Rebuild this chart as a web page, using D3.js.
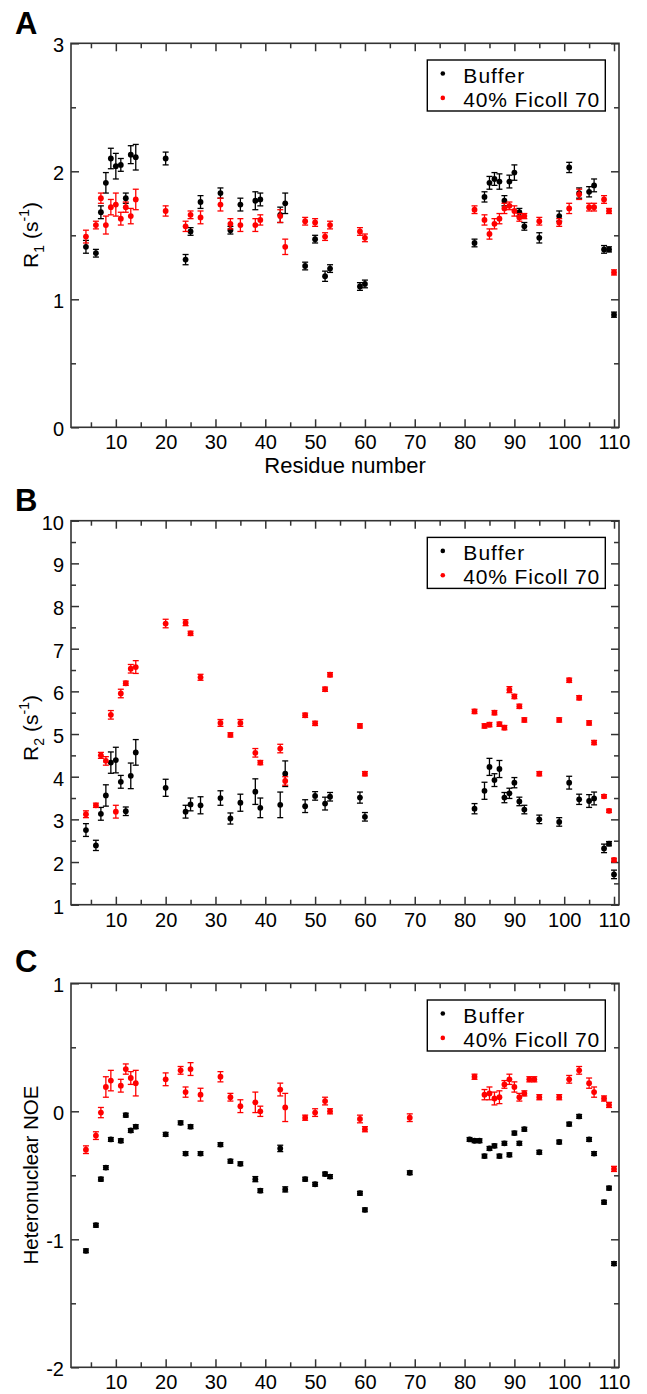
<!DOCTYPE html>
<html>
<head>
<meta charset="utf-8">
<script src="https://cdn.jsdelivr.net/npm/d3@7"></script>
<style>
  body { margin: 0; background: #fff; }
  text { font-family: "Liberation Sans", Arial, Helvetica, sans-serif; }
</style>
</head>
<body>
<div id="wrapper"></div>
<script>
// residues shared by panels A and B
const residues = [4,6,7,8,9,10,11,12,13,14,20,24,25,27,31,33,35,38,39,43,44,48,50,52,53,59,60,
    82,84,85,86,87,88,89,90,91,92,95,99,101,103,105,106,108,109,110]

// panel A: R1
const r1Buffer = [1.41,1.36,1.68,1.91,2.10,2.04,2.05,1.79,2.13,2.11,2.10,1.31,1.53,1.76,1.83,1.54,1.74,1.77,1.78,1.66,1.75,1.26,1.47,1.18,1.24,1.10,1.12,
    1.44,1.80,1.91,1.94,1.92,1.77,1.92,1.99,1.68,1.57,1.48,1.65,2.03,1.83,1.84,1.89,1.39,1.39,0.88]
const r1BufferErr = [.05,.03,.05,.08,.08,.1,.05,.04,.07,.1,.05,.04,.03,.05,.04,.03,.05,.07,.05,.06,.08,.03,.03,.04,.03,.03,.03,
    .03,.04,.05,.05,.06,.04,.05,.06,.03,.03,.04,.04,.04,.04,.04,.05,.03,.02,.02]
const r1Ficoll = [1.49,1.58,1.79,1.58,1.72,1.74,1.63,1.72,1.65,1.78,1.69,1.57,1.66,1.64,1.74,1.59,1.58,1.58,1.62,1.65,1.41,1.61,1.60,1.49,1.58,1.53,1.48,
    1.70,1.62,1.51,1.59,1.63,1.71,1.73,1.69,1.64,1.65,1.61,1.60,1.71,1.82,1.72,1.72,1.78,1.69,1.21]
const r1FicollErr = [.05,.03,.04,.07,.06,.09,.05,.04,.06,.08,.04,.04,.03,.05,.05,.04,.05,.05,.04,.05,.06,.03,.03,.03,.03,.03,.03,
    .03,.04,.04,.04,.04,.04,.03,.04,.03,.02,.03,.03,.04,.04,.03,.03,.03,.02,.02]

// panel B: R2
const r2Buffer = [2.75,2.39,3.13,3.56,4.33,4.39,3.88,3.19,4.02,4.57,3.74,3.18,3.35,3.33,3.50,3.02,3.39,3.65,3.27,3.34,4.07,3.31,3.55,3.37,3.53,3.51,3.06,
    3.25,3.67,4.23,3.92,4.18,3.51,3.61,3.86,3.42,3.23,3.00,2.94,3.86,3.47,3.43,3.49,2.32,2.43,1.71]
const r2BufferErr = [.15,.12,.15,.25,.25,.3,.15,.1,.3,.3,.2,.15,.15,.2,.17,.13,.2,.3,.23,.3,.3,.15,.1,.15,.1,.13,.1,
    .12,.2,.2,.15,.2,.12,.12,.12,.1,.1,.1,.1,.15,.12,.15,.15,.1,.05,.1]
const r2Ficoll = [3.12,3.33,4.50,4.37,5.45,3.18,5.95,6.19,6.53,6.57,7.59,7.61,7.36,6.33,5.26,4.98,5.26,4.56,4.33,4.66,3.90,5.44,5.25,6.05,6.39,5.19,4.07,
    5.53,5.19,5.22,5.50,5.23,5.15,6.04,5.88,5.65,5.33,4.07,5.33,6.26,5.85,5.26,4.80,3.54,3.20,2.05]
const r2FicollErr = [.08,.05,.07,.1,.1,.15,.1,.05,.1,.15,.1,.07,.05,.07,.08,.05,.08,.1,.05,.1,.1,.05,.05,.05,.05,.05,.05,
    .05,.05,.05,.05,.05,.05,.07,.05,.05,.05,.05,.05,.05,.05,.05,.05,.04,.04,.04]

// panel C: heteronuclear NOE (residue sets differ)
const noeBufferRes = [4,6,7,8,9,11,12,13,14,20,23,24,25,27,31,33,35,38,39,43,44,48,50,52,53,59,60,69,
    81,82,83,84,85,86,87,88,89,90,91,92,95,99,101,103,105,106,108,109,110]
const noeBuffer = [-1.09,-0.89,-0.53,-0.44,-0.22,-0.23,-0.03,-0.15,-0.12,-0.18,-0.09,-0.33,-0.12,-0.33,-0.26,-0.39,-0.41,-0.53,-0.62,-0.29,-0.61,-0.53,-0.57,-0.49,-0.51,-0.64,-0.77,-0.48,
    -0.22,-0.23,-0.23,-0.35,-0.29,-0.27,-0.35,-0.25,-0.34,-0.17,-0.25,-0.14,-0.32,-0.24,-0.10,-0.04,-0.22,-0.33,-0.71,-0.60,-1.19]
const noeBufferErr = [.015,.015,.015,.015,.015,.015,.015,.015,.015,.015,.015,.015,.015,.015,.015,.015,.015,.02,.015,.025,.02,.015,.015,.015,.015,.015,.015,.015,
    .015,.015,.015,.015,.015,.015,.015,.015,.015,.015,.015,.015,.015,.015,.015,.015,.015,.015,.015,.015,.015]
const noeFicollRes = [4,6,7,8,9,11,12,13,14,20,23,24,25,27,31,33,35,38,39,43,44,48,50,52,53,59,60,69,
    82,84,85,86,87,88,89,90,91,92,93,94,95,99,101,103,105,106,108,109,110]
const noeFicoll = [-0.30,-0.19,-0.01,0.19,0.24,0.20,0.33,0.26,0.22,0.25,0.32,0.15,0.33,0.13,0.27,0.11,0.04,0.07,0.00,0.17,0.03,-0.05,-0.01,0.08,0.00,-0.06,-0.14,-0.05,
    0.27,0.13,0.14,0.10,0.11,0.21,0.25,0.19,0.11,0.14,0.25,0.25,0.11,0.11,0.25,0.32,0.22,0.15,0.10,0.05,-0.45]
const noeFicollErr = [.03,.03,.04,.08,.08,.05,.04,.05,.1,.05,.03,.04,.05,.05,.04,.03,.05,.08,.04,.05,.11,.02,.03,.03,.02,.03,.02,.03,
    .02,.04,.05,.05,.05,.03,.04,.04,.03,.02,.02,.02,.02,.02,.03,.03,.04,.04,.02,.02,.02]

// ticks
const xMajorTicks = [10,20,30,40,50,60,70,80,90,100,110]
const xMinorTicks = [5,15,25,35,45,55,65,75,85,95,105]
const r1MajorTicks = [0,1,2,3]
const r1MinorTicks = [0.5,1.5,2.5]
const r2MajorTicks = [1,2,3,4,5,6,7,8,9,10]
const r2MinorTicks = [1.5,2.5,3.5,4.5,5.5,6.5,7.5,8.5,9.5]
const noeMajorTicks = [-2,-1,0,1]
const noeMinorTicks = [-1.5,-0.5,0.5]

const seriesNames = ['Buffer', '40% Ficoll 70']
const seriesColors = ['#000000', '#ff0000']

const dimensions = {
    width: 647,
    height: 1394,
    left: 71,
    right: 619,
    panelHeight: 384
}

const svg = d3.select('#wrapper').append('svg')
    .attr('width', dimensions.width)
    .attr('height', dimensions.height)

const xScale = d3.scaleLinear()
    .domain([1, 111])
    .range([dimensions.left, dimensions.right])

function drawPanel (p) {
    const top = p.top
    const bottom = top + dimensions.panelHeight
    const yScale = d3.scaleLinear().domain(p.domain).range([bottom, top])
    const g = svg.append('g')

    // axes (ticks point inward, mirrored on top/right)
    const addAxis = (axis, tx, ty) => {
        const a = g.append('g')
            .attr('transform', `translate(${tx},${ty})`)
            .call(axis)
        a.select('.domain').remove()
        a.selectAll('line').attr('stroke', '#333').attr('stroke-width', 1.5)
        a.selectAll('text').attr('font-size', 20).attr('fill', '#000')
            .style('font-family', '"Liberation Sans", Arial, sans-serif')
        return a
    }
    addAxis(d3.axisBottom(xScale).tickValues(xMajorTicks).tickSize(-8).tickSizeOuter(0).tickPadding(8).tickFormat(d => d), 0, bottom)
    addAxis(d3.axisBottom(xScale).tickValues(xMinorTicks).tickSize(-5).tickSizeOuter(0).tickFormat(''), 0, bottom)
    addAxis(d3.axisTop(xScale).tickValues(xMajorTicks).tickSize(-8).tickSizeOuter(0).tickFormat(''), 0, top)
    addAxis(d3.axisTop(xScale).tickValues(xMinorTicks).tickSize(-5).tickSizeOuter(0).tickFormat(''), 0, top)
    const yl = addAxis(d3.axisLeft(yScale).tickValues(p.major).tickSize(-8).tickSizeOuter(0).tickPadding(7).tickFormat(d => String(d)), dimensions.left, 0)
    yl.selectAll('text').attr('dy', '0.42em')
    addAxis(d3.axisLeft(yScale).tickValues(p.minor).tickSize(-5).tickSizeOuter(0).tickFormat(''), dimensions.left, 0)
    addAxis(d3.axisRight(yScale).tickValues(p.major).tickSize(-8).tickSizeOuter(0).tickFormat(''), dimensions.right, 0)
    addAxis(d3.axisRight(yScale).tickValues(p.minor).tickSize(-5).tickSizeOuter(0).tickFormat(''), dimensions.right, 0)

    g.append('rect')
        .attr('x', dimensions.left)
        .attr('y', top)
        .attr('width', dimensions.right - dimensions.left)
        .attr('height', dimensions.panelHeight)
        .attr('fill', 'none')
        .attr('stroke', '#333')
        .attr('stroke-width', 1.6)

    // points with error bars
    p.series.forEach((s, i) => {
        const color = seriesColors[i]
        const pts = s.res.map((r, j) => ({ r: r, v: s.val[j], e: s.err[j] }))
        const sg = g.append('g')
        const eb = sg.selectAll('g.eb').data(pts).join('g').attr('class', 'eb')
        eb.append('line')
            .attr('x1', d => xScale(d.r)).attr('x2', d => xScale(d.r))
            .attr('y1', d => yScale(d.v - d.e)).attr('y2', d => yScale(d.v + d.e))
        eb.append('line')
            .attr('x1', d => xScale(d.r) - 3).attr('x2', d => xScale(d.r) + 3)
            .attr('y1', d => yScale(d.v + d.e)).attr('y2', d => yScale(d.v + d.e))
        eb.append('line')
            .attr('x1', d => xScale(d.r) - 3).attr('x2', d => xScale(d.r) + 3)
            .attr('y1', d => yScale(d.v - d.e)).attr('y2', d => yScale(d.v - d.e))
        eb.selectAll('line').attr('stroke', color).attr('stroke-width', 1.3)
        sg.selectAll('circle').data(pts).join('circle')
            .attr('cx', d => xScale(d.r))
            .attr('cy', d => yScale(d.v))
            .attr('r', 2.9)
            .attr('fill', color)
    })

    // legend
    const lx = 427.3, ly = top + 16.7
    g.append('rect')
        .attr('x', lx).attr('y', ly)
        .attr('width', 178).attr('height', 51)
        .attr('fill', '#fff').attr('stroke', '#000').attr('stroke-width', 1.4)
    seriesNames.forEach((name, i) => {
        g.append('circle')
            .attr('cx', lx + 15.5).attr('cy', ly + 13.5 + i * 24.4)
            .attr('r', 2.3).attr('fill', seriesColors[i])
        g.append('text')
            .attr('x', lx + 36).attr('y', ly + 22.5 + i * 24)
            .attr('font-size', 21)
            .attr('textLength', i === 0 ? 61 : 136)
            .text(name)
    })

    // panel letter
    g.append('text')
        .attr('x', 15).attr('y', p.letterY)
        .attr('font-size', 31).attr('font-weight', 'bold')
        .text(p.letter)

    // y label
    const lab = g.append('text')
        .attr('transform', `translate(37.5,${p.labelY}) rotate(-90)`)
        .attr('text-anchor', 'middle')
        .attr('font-size', 21)
    if (p.sub) {
        lab.append('tspan').text('R')
        lab.append('tspan').attr('font-size', 14).attr('dy', 6).text(p.sub)
        lab.append('tspan').attr('dy', -6).attr('dx', 6).text('(s')
        lab.append('tspan').attr('font-size', 14).attr('dy', -9).text('-1')
        lab.append('tspan').attr('dy', 9).text(')')
    } else {
        lab.attr('font-size', 20.5).text(p.label)
    }
}

drawPanel({
    letter: 'A', letterY: 34, top: 43.3, domain: [0, 3],
    major: r1MajorTicks, minor: r1MinorTicks, sub: '1', labelY: 235,
    series: [
        { res: residues, val: r1Buffer, err: r1BufferErr },
        { res: residues, val: r1Ficoll, err: r1FicollErr }
    ]
})

drawPanel({
    letter: 'B', letterY: 510.5, top: 520.7, domain: [1, 10],
    major: r2MajorTicks, minor: r2MinorTicks, sub: '2', labelY: 728,
    series: [
        { res: residues, val: r2Buffer, err: r2BufferErr },
        { res: residues, val: r2Ficoll, err: r2FicollErr }
    ]
})

drawPanel({
    letter: 'C', letterY: 972, top: 983.3, domain: [-2, 1],
    major: noeMajorTicks, minor: noeMinorTicks, label: 'Heteronuclear NOE', labelY: 1175,
    series: [
        { res: noeBufferRes, val: noeBuffer, err: noeBufferErr },
        { res: noeFicollRes, val: noeFicoll, err: noeFicollErr }
    ]
})

// x-axis title (only under panel A)
svg.append('text')
    .attr('x', 345).attr('y', 472.5)
    .attr('text-anchor', 'middle')
    .attr('font-size', 22)
    .text('Residue number')
</script>
</body>
</html>
